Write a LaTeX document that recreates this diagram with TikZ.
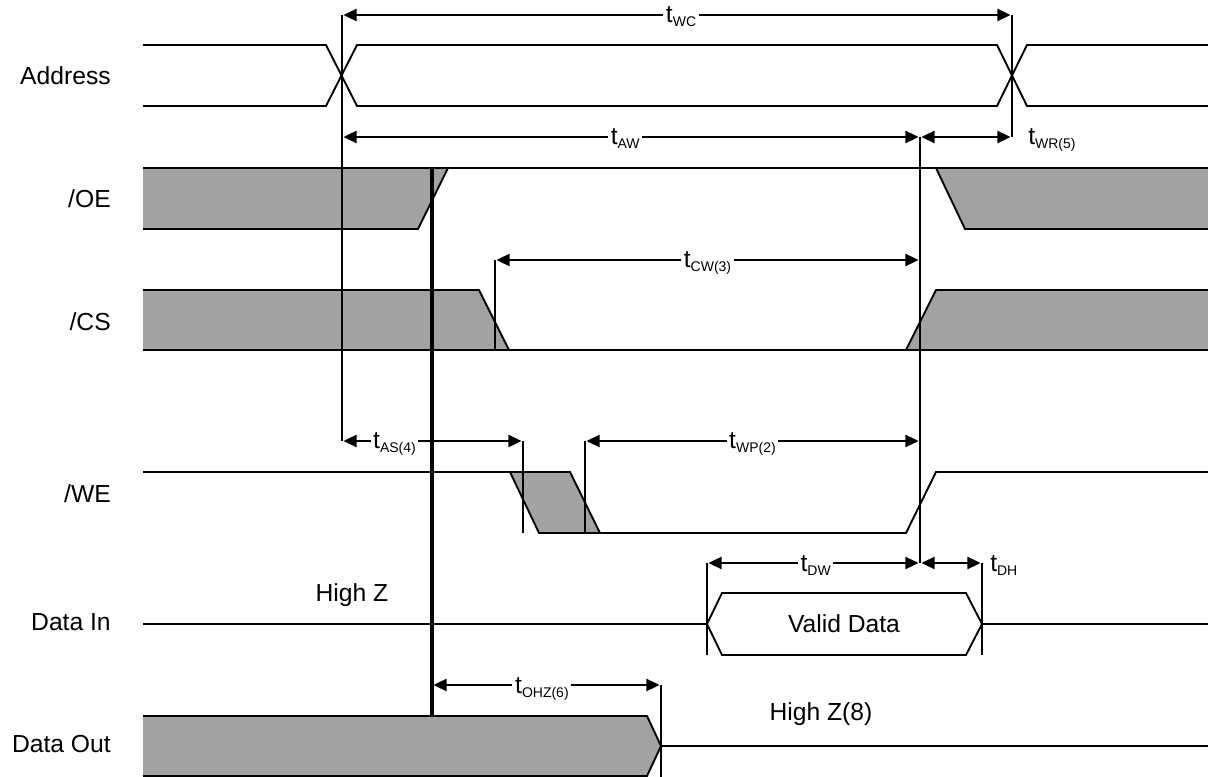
\documentclass[tikz,border=0pt]{standalone}
\usepackage{fontspec}
\setmainfont{Liberation Sans}
\usetikzlibrary{arrows.meta}
\definecolor{sig}{RGB}{162,162,162}
\newcommand{\tsb}[1]{t\raisebox{-3pt}{\fontsize{10.5pt}{12pt}\selectfont #1}}
\tikzset{
  sigline/.style={line width=1.4pt},
  refline/.style={line width=1.4pt},
  thickref/.style={line width=2.3pt},
  dim/.style={line width=1.9pt,{Triangle[length=10pt,width=9pt]}-{Triangle[length=10pt,width=9pt]},shorten <=1pt,shorten >=1pt},
  lab/.style={fill=white,inner sep=2pt,anchor=base,yshift=-6pt},
  rlab/.style={inner sep=0pt,anchor=base west,yshift=-6pt},
  sname/.style={inner sep=0pt,anchor=east},
  txt/.style={inner sep=0pt,anchor=center}
}
\begin{document}
\begin{tikzpicture}[x=0.75pt,y=-0.75pt,font=\fontsize{18.5pt}{22pt}\selectfont]
\useasboundingbox (0,0) rectangle (1208,777);
% ---------- signal names
\node[sname] (nAddr) at (111,76) {Address};
\node[sname] (nOE) at (111,199) {/OE};
\node[sname] (nCS) at (111,322) {/CS};
\node[sname] (nWE) at (111,494) {/WE};
\node[sname] (nDin) at (111,622) {Data In};
\node[sname] (nDout) at (111,744) {Data Out};
% ---------- Address
\draw[sigline] (143,45) -- (326,45) -- (357,106) -- (997,106) -- (1027,45) -- (1208,45);
\draw[sigline] (143,106) -- (326,106) -- (357,45) -- (997,45) -- (1027,106) -- (1208,106);
% ---------- /OE
\fill[sig] (143,168) -- (448,168) -- (418,229) -- (143,229) -- cycle;
\fill[sig] (936,168) -- (1208,168) -- (1208,229) -- (965,229) -- cycle;
\draw[sigline] (143,168) -- (1208,168);
\draw[sigline] (143,229) -- (418,229) -- (448,168);
\draw[sigline] (936,168) -- (965,229) -- (1208,229);
% ---------- /CS
\fill[sig] (143,290) -- (479,290) -- (509,350) -- (143,350) -- cycle;
\fill[sig] (906,350) -- (936,290) -- (1208,290) -- (1208,350) -- cycle;
\draw[sigline] (143,290) -- (479,290) -- (509,350);
\draw[sigline] (906,350) -- (936,290) -- (1208,290);
\draw[sigline] (143,350) -- (1208,350);
% ---------- /WE
\fill[sig] (510,472) -- (570,472) -- (600,533) -- (539,533) -- cycle;
\draw[sigline] (143,472) -- (570,472) -- (600,533);
\draw[sigline] (510,472) -- (539,533) -- (906,533) -- (936,472) -- (1208,472);
% ---------- Data In
\draw[line width=1.1pt] (143,624) -- (707,624);
\draw[sigline] (707,624) -- (722,593) -- (966,593) -- (982,624) -- (966,655) -- (722,655) -- cycle;
\draw[line width=2pt] (982,624) -- (1208,624);
\node[txt] (hz) at (352,595) {High Z};
\node[txt] (vd) at (844,624) {Valid Data};
% ---------- Data Out
\fill[sig] (143,716) -- (647,716) -- (661,746) -- (647,776) -- (143,776) -- cycle;
\draw[sigline] (143,716) -- (647,716) -- (661,746) -- (647,776) -- (143,776);
\draw[sigline] (661,746) -- (1208,746);
\node[txt] (hz8) at (821,714) {High Z(8)};
% ---------- reference coordinates
\coordinate (a1) at (342,15);
\coordinate (a2) at (342,137);
\coordinate (a3) at (342,441);
\coordinate (b1) at (1012,15);
\coordinate (b2) at (1012,137);
\coordinate (c1) at (920,137);
\coordinate (c2) at (920,260);
\coordinate (c3) at (920,441);
\coordinate (c4) at (920,563);
\coordinate (d1) at (495,260);
\coordinate (d2) at (495,350);
\coordinate (e1) at (523,441);
\coordinate (e2) at (523,533);
\coordinate (f1) at (585,441);
\coordinate (f2) at (585,533);
\coordinate (g1) at (707,563);
\coordinate (g2) at (707,655);
\coordinate (h1) at (982,563);
\coordinate (h2) at (982,655);
\coordinate (k1) at (432,168);
\coordinate (k2) at (432,685);
\coordinate (k3) at (432,716);
\coordinate (m1) at (661,685);
\coordinate (m2) at (661,777);
% ---------- reference lines
\draw[refline] (a1) -- (a3);
\draw[refline] (b1) -- (b2);
\draw[refline] (c1) -- (c4);
\draw[refline] (d1) -- (d2);
\draw[refline] (e1) -- (e2);
\draw[line width=2pt] (f1) -- (f2);
\draw[line width=1.8pt] (g1) -- (g2);
\draw[line width=1.8pt] (h1) -- (h2);
\draw[refline] (m1) -- (m2);
\draw[thickref] (k1) -- (k3);
% ---------- dimension arrows
\draw[dim] (a1) -- node[lab,pos=0.506] {\tsb{WC}} (b1);
\draw[dim] (a2) -- node[lab,pos=0.49] {\tsb{AW}} (c1);
\draw[dim] (c1) -- (b2);
\node[rlab] (lwr) at (1028,137) {\tsb{WR(5)}};
\draw[dim] (d1) -- node[lab,pos=0.5] {\tsb{CW(3)}} (c2);
\draw[dim] (a3) -- node[lab,pos=0.29] {\tsb{AS(4)}} (e1);
\draw[dim] (f1) -- node[lab,pos=0.5] {\tsb{WP(2)}} (c3);
\draw[dim] (g1) -- node[lab,pos=0.51] {\tsb{DW}} (c4);
\draw[dim] (c4) -- (h1);
\node[rlab] (ldh) at (990,563) {\tsb{DH}};
\draw[dim] (k2) -- node[lab,pos=0.48] {\tsb{OHZ(6)}} (m1);
\end{tikzpicture}
\end{document}
